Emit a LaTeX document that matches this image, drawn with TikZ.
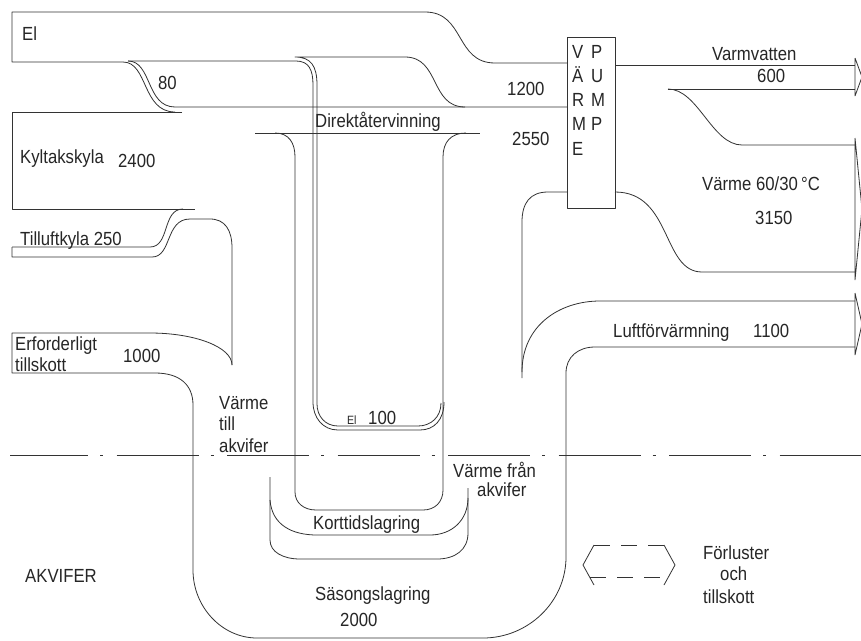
\documentclass[tikz,border=0pt]{standalone}
\usepackage{fontspec}
\setmainfont{Liberation Sans}[FakeStretch=0.88]
\begin{document}
\begin{tikzpicture}[x=1pt,y=-1pt,
  ln/.style={draw=black!80,line width=0.8pt,line join=round},
  lbl/.style={inner sep=0pt,anchor=base west,text=black!85,font=\fontsize{19}{22}\selectfont},
  sml/.style={inner sep=0pt,anchor=base west,text=black!85,font=\fontsize{12}{14}\selectfont},
  dashdotline/.style={ln,dash pattern=on 82pt off 12pt on 3pt off 13.5pt,dash phase=4pt},
  arrdash/.style={ln,dash pattern=on 16pt off 11pt}]
\useasboundingbox (0,0) rectangle (861,640);
\fill[white] (0,0) rectangle (861,640);

% El band top, El box, 80 outer edge
\draw[ln] (567,63) -- (495,63) .. controls (455,63) and (465,12) .. (425,12) -- (12,12) -- (12,62) -- (123,62)
  .. controls (148,62) and (142,112) .. (175,112);
% 80 inner edge + top of cooling band
\draw[ln] (128,61) .. controls (152,61) and (146,107) .. (175,107) -- (567,107);
% El bottom after 80 split -> El 100 outer edge
\draw[ln] (128,61) -- (296,61) .. controls (309,61) and (313,70) .. (313,85) -- (313,402)
  .. controls (313,418) and (323,430) .. (338,430) -- (420,430) .. controls (434,430) and (444,420) .. (444,402);
% El 1200 bottom edge and El 100 inner edge
\draw[ln] (465,107) .. controls (430,107) and (440,57) .. (405,57) -- (295,57)
  .. controls (311,57) and (317,66) .. (317,85) -- (317,404)
  .. controls (317,416) and (325,426) .. (338,426) -- (418,426) .. controls (431,426) and (441,417) .. (441,403);

% Direktatervinning line and U
\draw[ln] (255,133) -- (480,133);
\draw[ln] (275,133) .. controls (289,133) and (295,143) .. (295,157) -- (295,492)
  .. controls (295,503) and (304,510) .. (316,510) -- (423,510) .. controls (435,510) and (443,502) .. (443,490)
  -- (443,157) .. controls (443,142) and (451,133) .. (466,133);

% Kyltakskyla box
\draw[ln] (182,112) -- (12,112) -- (12,209) -- (195,209);
% Tilluftkyla top
\draw[ln] (12,247) -- (150,247) .. controls (170,247) and (162,209) .. (183,209);
% Tilluftkyla bottom -> left edge of Varme till akvifer
\draw[ln] (12,247) -- (12,257) -- (152,257) .. controls (172,257) and (165,219) .. (190,219) -- (210,219)
  .. controls (225,219) and (232,230) .. (232,248) -- (232,365);
% Erforderligt tillskott and big outer U -> Luftforvarmning bottom
\draw[ln] (232,365) .. controls (232,347) and (195,333) .. (150,333) -- (12,333) -- (12,373) -- (155,373)
  .. controls (180,373) and (193,385) .. (193,405) -- (193,570)
  .. controls (193,607) and (222,638) .. (257,638) -- (483,638)
  .. controls (528,638) and (566,602) .. (566,557) -- (566,373)
  .. controls (566,357) and (578,347) .. (595,347) -- (855,347);
% Luftforvarmning top
\draw[ln] (855,301) -- (600,301) .. controls (560,301) and (522,325) .. (522,372);
% Heat pump input from below
\draw[ln] (567,192) -- (548,192) .. controls (530,192) and (522,203) .. (522,222) -- (522,378);

% Heat pump box
\draw[ln] (567,37) rectangle (615,208);

% Outputs
\draw[ln] (615,65) -- (855,65);
\draw[ln] (668,89) -- (855,89);
\draw[ln] (668,89) .. controls (698,89) and (712,145) .. (742,145) -- (855,145);
\draw[ln] (615,192) .. controls (672,192) and (662,272) .. (702,272) -- (855,272);
% arrow heads
\draw[ln] (855,58) -- (855,96) (855,58) -- (862,77) -- (855,96);
\draw[ln] (855,138) -- (855,280) (855,138) -- (862,209) -- (855,280);
\draw[ln] (855,293) -- (855,355) (855,293) -- (862,324) -- (855,355);

% Korttidslagring and Sasongslagring inner lines
\draw[ln] (270,477) -- (270,540) .. controls (270,552) and (283,559) .. (300,559) -- (437,559)
  .. controls (455,559) and (468,550) .. (468,533) -- (468,488);
\draw[ln] (270,500) .. controls (272,525) and (292,535) .. (317,535) -- (430,535)
  .. controls (452,535) and (468,520) .. (468,498);

% ground level
\draw[dashdotline] (10,455) -- (861,455);

% losses and supply symbol
\draw[ln] (594,545) -- (583,565) -- (594,585);
\draw[ln] (664,545) -- (675,565) -- (664,585);
\draw[arrdash] (594,545) -- (664,545);
\draw[arrdash] (590,577) -- (668,577);

% Texts
\node[lbl] (tEl) at (22,40) {El};
\node[lbl] (t80) at (158,89) {80};
\node[lbl] (tKyl) at (20,163) {Kyltakskyla};
\node[lbl] (t2400) at (118,167) {2400};
\node[lbl] (tTill) at (20,245) {Tilluftkyla 250};
\node[lbl] (tErf) at (15,350) {Erforderligt};
\node[lbl] (tTsk) at (15,371) {tillskott};
\node[lbl] (t1000) at (123,362) {1000};
\node[lbl] (tVta1) at (219,409) {Värme};
\node[lbl] (tVta2) at (219,430) {till};
\node[lbl] (tVta3) at (219,452) {akvifer};
\node[lbl] (tAkv) at (25,582) {AKVIFER};
\node[lbl] (tDir) at (315,127) {Direktåtervinning};
\node[lbl] (t1200) at (507,95) {1200};
\node[lbl] (t2550) at (512,145) {2550};
\node[lbl] (tVP1) at (572,58) {V};
\node[lbl] (tVP2) at (572,82) {Ä};
\node[lbl] (tVP3) at (572,106) {R};
\node[lbl] (tVP4) at (572,130) {M};
\node[lbl] (tVP5) at (572,155) {E};
\node[lbl] (tVP6) at (591,58) {P};
\node[lbl] (tVP7) at (591,82) {U};
\node[lbl] (tVP8) at (591,106) {M};
\node[lbl] (tVP9) at (591,130) {P};
\node[lbl] (tVv) at (712,60) {Varmvatten};
\node[lbl] (t600) at (757,82) {600};
\node[lbl] (tVa) at (702,190) {Värme 60/30\,°C};
\node[lbl] (t3150) at (755,224) {3150};
\node[lbl] (tLuft) at (613,337) {Luftförvärmning};
\node[lbl] (t1100) at (753,337) {1100};
\node[sml] (tEl2) at (347,424) {El};
\node[lbl] (t100) at (368,424) {100};
\node[lbl] (tVfa1) at (453,477) {Värme från};
\node[lbl] (tVfa2) at (477,496) {akvifer};
\node[lbl] (tKort) at (313,529) {Korttidslagring};
\node[lbl] (tSas) at (315,600) {Säsongslagring};
\node[lbl] (t2000) at (340,626) {2000};
\node[lbl] (tFor) at (703,559) {Förluster};
\node[lbl] (toch) at (720,580) {och};
\node[lbl] (tTsk2) at (703,603) {tillskott};
\end{tikzpicture}
\end{document}
